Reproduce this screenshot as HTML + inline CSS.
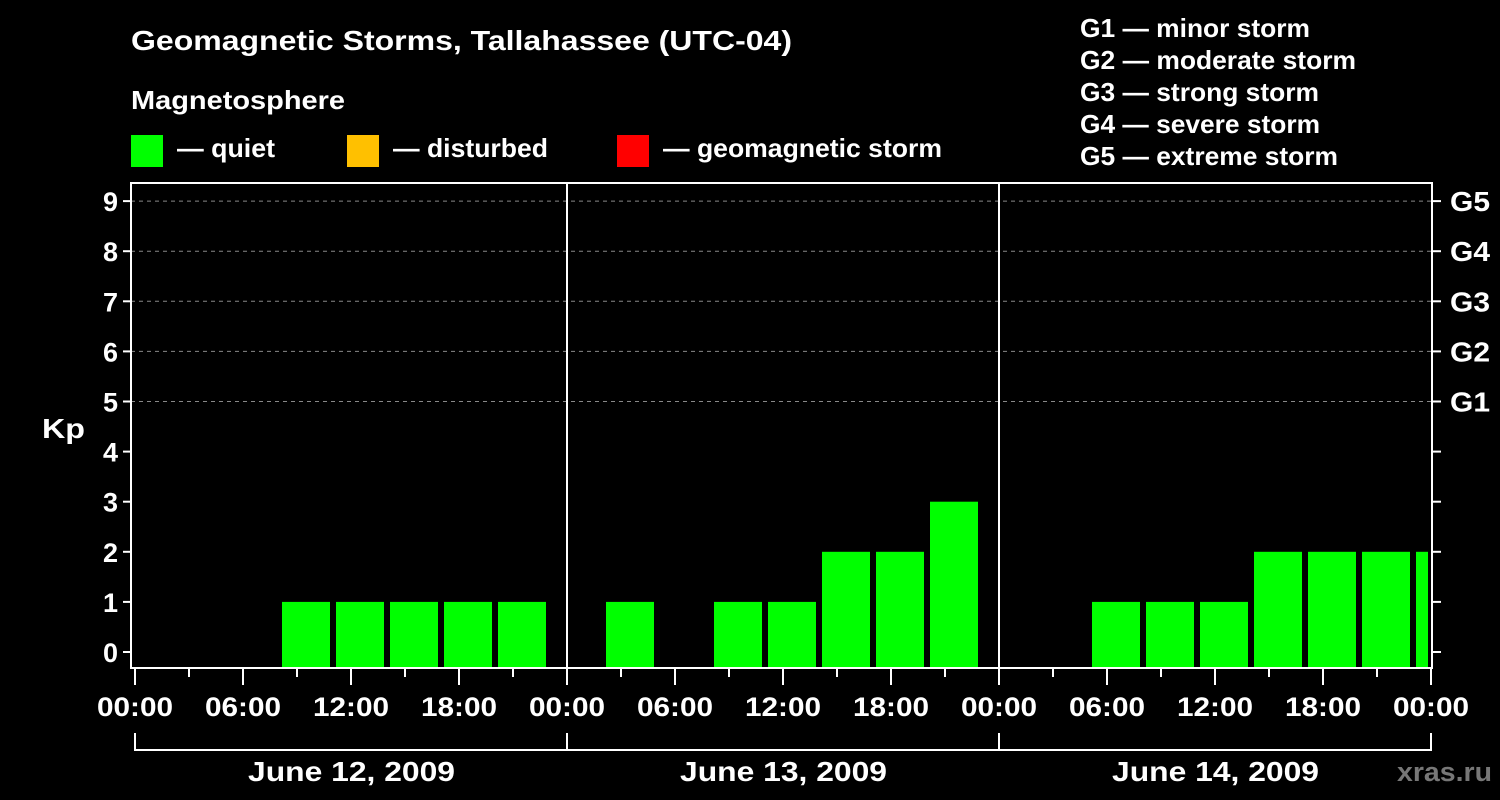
<!DOCTYPE html>
<html><head><meta charset="utf-8"><style>
html,body{margin:0;padding:0;background:#000;}
svg{display:block;font-family:"Liberation Sans",Arial,sans-serif;font-weight:bold;}
</style></head><body>
<svg id="chart" width="1500" height="800" viewBox="0 0 1500 800">
<rect x="0" y="0" width="1500" height="800" fill="#000"/>
<text x="131" y="50" fill="#fff" font-size="28" textLength="661" lengthAdjust="spacingAndGlyphs">Geomagnetic Storms, Tallahassee (UTC-04)</text>
<text x="131" y="109" fill="#fff" font-size="26" textLength="214" lengthAdjust="spacingAndGlyphs">Magnetosphere</text>
<g><rect x="131" y="135" width="32" height="32" fill="#00ff00"/><text x="177" y="157" fill="#fff" font-size="26" textLength="98" lengthAdjust="spacingAndGlyphs">— quiet</text></g>
<g><rect x="347" y="135" width="32" height="32" fill="#ffc000"/><text x="393" y="157" fill="#fff" font-size="26" textLength="155" lengthAdjust="spacingAndGlyphs">— disturbed</text></g>
<g><rect x="617" y="135" width="32" height="32" fill="#ff0000"/><text x="663" y="157" fill="#fff" font-size="26" textLength="279" lengthAdjust="spacingAndGlyphs">— geomagnetic storm</text></g>
<g fill="#fff" font-size="26">
<text x="1080" y="37" textLength="230" lengthAdjust="spacingAndGlyphs">G1 — minor storm</text>
<text x="1080" y="69" textLength="276" lengthAdjust="spacingAndGlyphs">G2 — moderate storm</text>
<text x="1080" y="101" textLength="239" lengthAdjust="spacingAndGlyphs">G3 — strong storm</text>
<text x="1080" y="133" textLength="240" lengthAdjust="spacingAndGlyphs">G4 — severe storm</text>
<text x="1080" y="165" textLength="258" lengthAdjust="spacingAndGlyphs">G5 — extreme storm</text>
</g>
<text x="42" y="438" fill="#fff" font-size="28" textLength="43" lengthAdjust="spacingAndGlyphs">Kp</text>
<text x="1492" y="781" fill="#777" font-size="27" text-anchor="end" textLength="95" lengthAdjust="spacingAndGlyphs">xras.ru</text>
<g id="grid"></g>
<g id="bars"></g>
<g id="axes"></g>
</svg>
<script>
const days = ["June 12, 2009", "June 13, 2009", "June 14, 2009"];
const slotStartHours = [2,5,8,11,14,17,20,23,26,29,32,35,38,41,44,47,50,53,56,59,62,65,68,71];
const kpValues = [0,0,1,1,1,1,1,0, 1,0,1,1,2,2,3,0, 0,1,1,1,2,2,2,2];
const yTicks = [0,1,2,3,4,5,6,7,8,9];
const gLabels = ["G1","G2","G3","G4","G5"];
const gLevels = [5,6,7,8,9];
const xLabels = ["00:00","06:00","12:00","18:00"];

const NS="http://www.w3.org/2000/svg";
const X0=135, PXH=18, L=131, R=1432, T=183, B=668;
const xs=h=>X0+h*PXH;
const ys=v=>652-v*50.1;
function mk(tag,attrs,parent){const e=document.createElementNS(NS,tag);for(const k in attrs)e.setAttribute(k,attrs[k]);parent.appendChild(e);return e;}
const grid=document.getElementById('grid'),bars=document.getElementById('bars'),axes=document.getElementById('axes');
const totalH=days.length*24;

gLevels.forEach((lv,i)=>{
  const l=mk('line',{x1:L,x2:R,y1:ys(lv),y2:ys(lv),stroke:'#888','stroke-dasharray':'4,4','stroke-width':1},grid);
  
  
});
slotStartHours.forEach((h,i)=>{
  const v=kpValues[i]; if(v<=0) return;
  const x=xs(h)+3; const xe=Math.min(xs(h)+51, xs(totalH)-3);
  if(xe<=x) return;
  const col=v>=5?'#ff0000':(v>=4?'#ffc000':'#00ff00');
  const r=mk('rect',{x:x,y:ys(v),width:xe-x,height:B-ys(v),fill:col},bars);
  
  
});
const fr=mk('rect',{x:L,y:T,width:R-L,height:B-T,fill:'none',stroke:'#fff','stroke-width':2},axes);


for(let d=1;d<days.length;d++){
  const ln=mk('line',{x1:xs(d*24),x2:xs(d*24),y1:T,y2:B,stroke:'#fff','stroke-width':2},axes);
  
  
}
yTicks.forEach(v=>{
  const t=mk('line',{x1:L-8,x2:L,y1:ys(v),y2:ys(v),stroke:'#fff','stroke-width':2},axes);
  
  
  const t2=mk('line',{x1:R,x2:R+9,y1:ys(v),y2:ys(v),stroke:'#fff','stroke-width':2},axes);
  
  
  const tx=mk('text',{x:L-13,y:ys(v)+10,fill:'#fff','font-size':27,'text-anchor':'end'},axes);
  tx.textContent=v;
  
  
});
gLevels.forEach((lv,i)=>{
  const tx=mk('text',{x:1450,y:ys(lv)+10,fill:'#fff','font-size':28,textLength:40,lengthAdjust:'spacingAndGlyphs'},axes);
  tx.textContent=gLabels[i];
  
  
});
for(let h=0;h<=totalH;h+=3){
  const major=h%6===0;
  const t=mk('line',{x1:xs(h),x2:xs(h),y1:B,y2:major?685:677,stroke:'#fff','stroke-width':2},axes);
  
  
  if(major){
    const tx=mk('text',{x:xs(h)-38,y:716,fill:'#fff','font-size':27,textLength:76,lengthAdjust:'spacingAndGlyphs'},axes);
    tx.textContent=xLabels[(h%24)/6];
    
    
  }
}
days.forEach((d,i)=>{
  const a=xs(i*24),b=xs((i+1)*24);
  const p=mk('path',{d:`M${a},733V750H${b}`+(i==days.length-1?'V733':''),fill:'none',stroke:'#fff','stroke-width':2},axes);
  
  
  const tx=mk('text',{x:(a+b)/2-103,y:781,fill:'#fff','font-size':28,textLength:207,lengthAdjust:'spacingAndGlyphs'},axes);
  tx.textContent=d;
  
  
});
</script>
</body></html>
